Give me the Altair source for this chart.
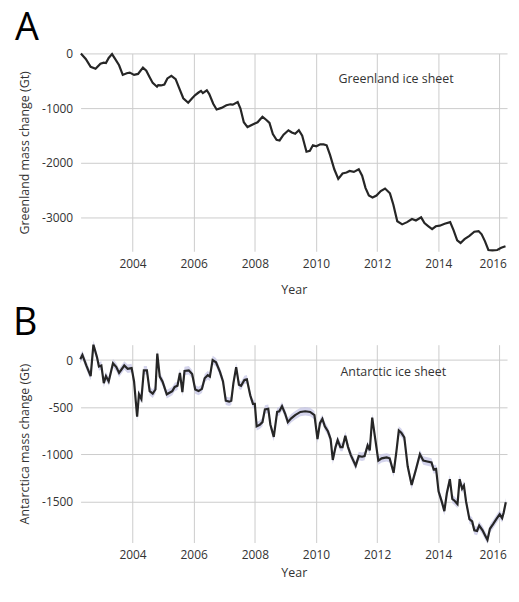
import altair as alt
import pandas as pd

# ---------------- data ----------------
gr_year = [2002.31, 2002.47, 2002.63, 2002.79, 2002.95, 2003.06, 2003.13, 2003.22, 2003.33, 2003.43,
           2003.56, 2003.68, 2003.81, 2003.91, 2004.05, 2004.18, 2004.34, 2004.45, 2004.56, 2004.66,
           2004.80, 2004.84, 2004.93, 2005.04, 2005.14, 2005.27, 2005.41, 2005.52, 2005.66, 2005.82,
           2005.95, 2006.05, 2006.16, 2006.24, 2006.30, 2006.43, 2006.51, 2006.64, 2006.75, 2006.91,
           2007.07, 2007.20, 2007.28, 2007.44, 2007.53, 2007.64, 2007.76, 2007.93, 2008.09, 2008.25,
           2008.37, 2008.48, 2008.59, 2008.71, 2008.81, 2008.94, 2009.10, 2009.21, 2009.32, 2009.44,
           2009.55, 2009.69, 2009.80, 2009.90, 2010.01, 2010.14, 2010.25, 2010.35, 2010.46, 2010.60,
           2010.73, 2010.87, 2011.00, 2011.10, 2011.24, 2011.40, 2011.51, 2011.62, 2011.73, 2011.85,
           2011.98, 2012.12, 2012.26, 2012.42, 2012.53, 2012.66, 2012.82, 2012.98, 2013.14, 2013.27,
           2013.44, 2013.55, 2013.68, 2013.80, 2013.92, 2014.05, 2014.21, 2014.39, 2014.50, 2014.62,
           2014.73, 2014.86, 2015.02, 2015.18, 2015.32, 2015.42, 2015.53, 2015.64, 2015.77, 2015.93,
           2016.06, 2016.20]
gr_mass = [0, -100, -246, -281, -187, -170, -176, -82, -12, -100,
           -217, -393, -363, -351, -393, -375, -258, -316, -434, -539,
           -609, -580, -586, -568, -457, -410, -469, -627, -820, -902,
           -820, -762, -715, -685, -726, -674, -744, -920, -1025, -996,
           -949, -931, -937, -890, -1008, -1260, -1347, -1300, -1260, -1160,
           -1213, -1271, -1476, -1582, -1593, -1488, -1406, -1447, -1470, -1406,
           -1505, -1798, -1780, -1681, -1699, -1664, -1664, -1681, -1857, -2120,
           -2296, -2197, -2179, -2150, -2167, -2120, -2237, -2460, -2600, -2636,
           -2600, -2519, -2472, -2560, -2765, -3070, -3128, -3087, -3029, -3058,
           -3000, -3105, -3163, -3216, -3163, -3152, -3117, -3087, -3234, -3421,
           -3468, -3398, -3339, -3263, -3251, -3310, -3439, -3597, -3603, -3597,
           -3556, -3527]

an_year = [2002.29, 2002.36, 2002.49, 2002.63, 2002.72, 2002.84, 2002.90, 2002.98, 2003.06, 2003.13,
           2003.22, 2003.36, 2003.47, 2003.56, 2003.73, 2003.84, 2003.97, 2004.05, 2004.15, 2004.21,
           2004.29, 2004.37, 2004.47, 2004.56, 2004.66, 2004.75, 2004.81, 2004.89, 2004.98, 2005.12,
           2005.30, 2005.38, 2005.47, 2005.55, 2005.63, 2005.70, 2005.84, 2005.95, 2006.05, 2006.16,
           2006.27, 2006.36, 2006.46, 2006.53, 2006.62, 2006.73, 2006.86, 2006.96, 2007.05, 2007.16,
           2007.23, 2007.30, 2007.39, 2007.48, 2007.55, 2007.66, 2007.74, 2007.85, 2007.94, 2008.00,
           2008.06, 2008.16, 2008.25, 2008.33, 2008.44, 2008.51, 2008.62, 2008.73, 2008.80, 2008.89,
           2008.99, 2009.08, 2009.19, 2009.32, 2009.49, 2009.65, 2009.81, 2009.95, 2010.05, 2010.13,
           2010.21, 2010.29, 2010.39, 2010.48, 2010.55, 2010.64, 2010.71, 2010.80, 2010.87, 2010.96,
           2011.05, 2011.14, 2011.30, 2011.40, 2011.51, 2011.59, 2011.69, 2011.76, 2011.84, 2011.94,
           2012.04, 2012.15, 2012.31, 2012.41, 2012.54, 2012.63, 2012.71, 2012.79, 2012.89, 2013.00,
           2013.13, 2013.27, 2013.40, 2013.51, 2013.64, 2013.78, 2013.85, 2013.93, 2014.01, 2014.12,
           2014.20, 2014.28, 2014.38, 2014.46, 2014.54, 2014.63, 2014.70, 2014.78, 2014.84, 2014.91,
           2015.02, 2015.11, 2015.18, 2015.27, 2015.34, 2015.45, 2015.53, 2015.61, 2015.69, 2015.80,
           2015.90, 2016.01, 2016.09, 2016.14, 2016.21]
an_mass = [10, 54, -58, -170, 163, 27, -68, -58, -244, -170,
           -227, -34, -75, -136, -58, -92, -85, -227, -601, -363,
           -414, -109, -109, -329, -356, -312, 68, -176, -227, -363,
           -329, -285, -272, -136, -339, -115, -109, -149, -312, -329,
           -305, -193, -160, -176, 0, -24, -126, -227, -431, -441,
           -431, -244, -75, -261, -272, -210, -204, -373, -465, -465,
           -703, -686, -658, -523, -516, -686, -815, -550, -543, -489,
           -567, -658, -618, -584, -550, -543, -550, -584, -838, -669,
           -624, -703, -754, -838, -1059, -923, -849, -923, -923, -804,
           -923, -1008, -1120, -1018, -1025, -1018, -906, -957, -611, -838,
           -1066, -1042, -1032, -1042, -1195, -974, -747, -771, -821, -1127,
           -1324, -1161, -998, -1066, -1076, -1086, -1161, -1154, -1392, -1507,
           -1602, -1415, -1263, -1473, -1494, -1527, -1263, -1364, -1331, -1500,
           -1687, -1711, -1806, -1812, -1755, -1806, -1857, -1907, -1789, -1738,
           -1687, -1636, -1677, -1619, -1507]
an_uncertainty = 45  # Gt, half-width of the shaded band

year_ticks = [2004, 2006, 2008, 2010, 2012, 2014, 2016]
gr_ticks = [0, -1000, -2000, -3000]
an_ticks = [0, -500, -1000, -1500]

FONT = "Open Sans"
TEXT = "#333333"
W, H = 429, 199
X_DOMAIN = [2002.3, 2016.25]

gr = pd.DataFrame({"year": gr_year, "mass": gr_mass})
an = pd.DataFrame({"year": an_year, "mass": an_mass})
an["lo"] = an["mass"] - an_uncertainty
an["hi"] = an["mass"] + an_uncertainty


def make_panel(df, ydomain, yticks, ytitle, letter, note, note_pos, letter_x, letter_y,
               xtitle_pad, band=False):
    xenc = alt.X("year:Q",
                 scale=alt.Scale(domain=X_DOMAIN, nice=False, zero=False),
                 axis=alt.Axis(values=year_ticks, title="Year", labelExpr="'' + datum.value",
                               labelFlush=10, labelFlushOffset=7, titlePadding=xtitle_pad))
    yenc = alt.Y("mass:Q",
                 scale=alt.Scale(domain=ydomain, nice=False, zero=False),
                 axis=alt.Axis(values=yticks, title=ytitle,
                               labelExpr="datum.value < 0 ? '-' + abs(datum.value) : '' + datum.value"))
    layers = []
    if band:
        layers.append(alt.Chart(df).mark_area(color="#c5c5e6", opacity=0.75).encode(
            x=xenc, y=alt.Y("lo:Q", scale=alt.Scale(domain=ydomain, nice=False, zero=False)), y2="hi:Q"))
    layers.append(alt.Chart(df).mark_line(color="#262626", strokeWidth=2.2).encode(x=xenc, y=yenc))
    ndf = pd.DataFrame({"year": [note_pos[0]], "mass": [note_pos[1]], "t": [note]})
    layers.append(alt.Chart(ndf).mark_text(font=FONT, fontSize=12.5, color=TEXT,
                                           align="center", baseline="middle").encode(
        x="year:Q", y="mass:Q", text="t:N"))
    ldf = pd.DataFrame({"t": [letter]})
    layers.append(alt.Chart(ldf).mark_text(font=FONT, fontSize=38, color="black",
                                           align="left", baseline="alphabetic").encode(
        x=alt.value(letter_x), y=alt.value(letter_y), text="t:N"))
    return alt.layer(*layers).properties(width=W, height=H)


top = make_panel(gr, [-3620, 0], gr_ticks, "Greenland mass change (Gt)", "A",
                 "Greenland ice sheet", (2012.62, -474), -66, -14, 14)
bottom = make_panel(an, [-1935, 163], an_ticks, "Antarctica mass change (Gt)", "B",
                    "Antarctic ice sheet", (2012.53, -131), -68, -10, 6, band=True)

chart = alt.vconcat(top, bottom, spacing=9).properties(
    padding={"left": 5, "top": 0, "right": 0, "bottom": 0}
).configure_view(stroke=None).configure_axis(
    domain=False, ticks=False, grid=True, gridColor="#cccccc", gridWidth=1,
    labelFont=FONT, labelFontSize=12, labelColor=TEXT, labelPadding=7,
    titleFont=FONT, titleFontSize=12.5, titleFontWeight="normal", titleColor=TEXT,
    titlePadding=10
).configure_axisY(labelPadding=8)

chart.save("out.html", embed_options={"renderer": "svg", "actions": False})
